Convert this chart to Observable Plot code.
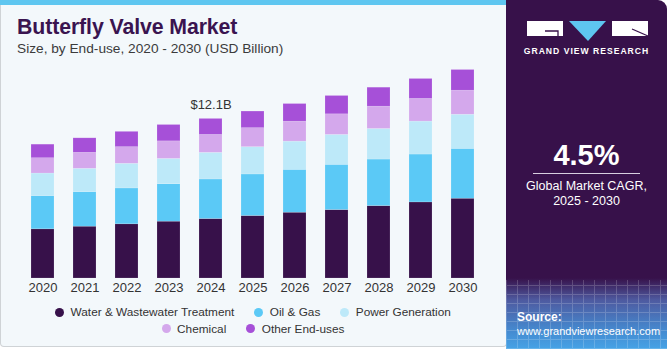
<!DOCTYPE html>
<html>
<head>
<meta charset="utf-8">
<script src="https://cdn.jsdelivr.net/npm/d3@7"></script>
<script src="https://cdn.jsdelivr.net/npm/@observablehq/plot@0.6"></script>
<style>
  html, body { margin: 0; padding: 0; background: #ffffff; }
  body { width: 671px; height: 350px; position: relative; overflow: hidden; font-family: "Liberation Sans", Arial, sans-serif; }
  #left { position: absolute; left: 0; top: 0; width: 505px; height: 346px; background: #f3f8fb; border: 1px solid #cfd3d6; border-top: none; border-radius: 0 0 4px 4px; }
  #topbar { position: absolute; left: 0; top: 0; width: 506px; height: 5px; background: #5ec6f0; }
  #title { position: absolute; left: 17px; top: 15px; font-size: 21.3px; font-weight: 900; color: #3a1450; letter-spacing: -0.1px; }
  #subtitle { position: absolute; left: 17px; top: 41px; font-size: 13.7px; color: #3b3b3b; }
  #chart { position: absolute; left: 0; top: 60px; }
  #legend { position: absolute; left: 0; top: 304px; width: 506px; font-size: 11.8px; color: #333; }
  .row { display: flex; justify-content: center; gap: 0; height: 16.5px; align-items: center; }
  .item { display: flex; align-items: center; margin: 0 10px; }
  .dot { width: 9px; height: 9px; border-radius: 50%; margin-right: 6.5px; }
  #right { position: absolute; left: 506px; top: 0; width: 161px; height: 349px; border-radius: 0 9px 0 0; overflow: hidden;
    background: linear-gradient(to bottom, #37114a 0px, #37114a 278px, #4e5aa0 300px, #4589cf 330px, #46a3e6 349px); }
  #grid { position: absolute; left: 0; top: 280px; width: 161px; height: 69px; opacity: 0.18;
    background-image: repeating-linear-gradient(0deg, #fff 0 1px, transparent 1px 9px), repeating-linear-gradient(90deg, #fff 0 1px, transparent 1px 11px); }
  #brand { position: absolute; left: 0; top: 46px; width: 161px; text-align: center; font-size: 8.6px; font-weight: bold; color: #fff; letter-spacing: 1px; }
  #cagr { position: absolute; left: 0; top: 139px; width: 161px; text-align: center; font-size: 29px; font-weight: bold; color: #fff; }
  #rule { position: absolute; left: 27px; top: 173px; width: 107px; height: 1px; background: #d8cfe0; }
  #cagrtxt { position: absolute; left: 0; top: 179px; width: 161px; text-align: center; font-size: 12.5px; color: #fff; line-height: 15px; }
  #src { position: absolute; left: 11px; top: 310px; font-size: 11px; color: #fff; line-height: 14px; }
</style>
</head>
<body>
<div id="left"></div>
<div id="topbar"></div>
<div id="title">Butterfly Valve Market</div>
<div id="subtitle">Size, by End-use, 2020 - 2030 (USD Billion)</div>
<div id="chart"></div>
<div id="legend"></div>
<div id="right">
  <div id="grid"></div>
  <svg width="161" height="45" style="position:absolute;left:0;top:0">
    <rect x="21" y="21" width="36" height="15" fill="#ffffff"/>
    <path d="M39 31 H52 V36" stroke="#37114a" stroke-width="1.3" fill="none"/>
    <polygon points="63,21 100,21 82,41" fill="#5ec6f0"/>
    <rect x="106" y="21" width="36" height="15" fill="#ffffff"/>
    <path d="M126 29 L142 36" stroke="#37114a" stroke-width="1.3" fill="none"/>
  </svg>
  <div id="brand">GRAND VIEW RESEARCH</div>
  <div id="cagr">4.5%</div>
  <div id="rule"></div>
  <div id="cagrtxt">Global Market CAGR,<br>2025 - 2030</div>
  <div id="src"><b style="font-size:12px">Source:</b><br>www.grandviewresearch.com</div>
</div>
<script>
const years = ["2020","2021","2022","2023","2024","2025","2026","2027","2028","2029","2030"];
const segments = ["Water & Wastewater Treatment","Oil & Gas","Power Generation","Chemical","Other End-uses"];
const colors = ["#37114a","#5bc9f6","#bde9f9","#d4a8ec","#a650d8"];
const water = [3.73, 3.93, 4.11, 4.31, 4.51, 4.74, 4.99, 5.19, 5.49, 5.77, 6.05];
const oilGas = [2.52, 2.62, 2.72, 2.84, 3.00, 3.15, 3.25, 3.43, 3.53, 3.63, 3.78];
const power = [1.71, 1.77, 1.87, 1.92, 2.02, 2.07, 2.14, 2.27, 2.32, 2.50, 2.59];
const chemical = [1.16, 1.21, 1.26, 1.33, 1.36, 1.44, 1.51, 1.56, 1.69, 1.72, 1.82];
const other = [1.03, 1.10, 1.16, 1.24, 1.21, 1.26, 1.34, 1.39, 1.44, 1.51, 1.57];
const annotations = [{year: "2024", text: "$12.1B"}];

const series = [water, oilGas, power, chemical, other];
const data = [];
years.forEach((y, i) => {
  segments.forEach((s, j) => data.push({year: y, segment: s, value: series[j][i]}));
});
const totals = years.map((y, i) => ({year: y, total: d3.sum(series, s => s[i])}));
const labelData = annotations.map(a => ({...a, total: totals.find(t => t.year === a.year).total}));

const chart = Plot.plot({
  width: 506,
  height: 240,
  marginLeft: 12,
  marginRight: 12,
  marginTop: 7,
  marginBottom: 22,
  style: {background: "transparent", fontFamily: "Liberation Sans, Arial, sans-serif", fontSize: "13px", color: "#333"},
  x: {domain: years, padding: 0.45, label: null, tickSize: 0, tickPadding: 4},
  y: {domain: [0, 16], axis: null},
  color: {domain: segments, range: colors},
  marks: [
    Plot.barY(data, {x: "year", y: "value", fill: "segment", stroke: "#ffffff", strokeOpacity: 0.25, strokeWidth: 0.6}),
    Plot.text(labelData, {x: "year", y: "total", text: "text", dy: -14, fontSize: 13, fill: "#333"})
  ]
});
document.getElementById("chart").appendChild(chart);

const legend = document.getElementById("legend");
const rows = [segments.slice(0, 3), segments.slice(3)];
rows.forEach(r => {
  const row = document.createElement("div");
  row.className = "row";
  r.forEach(s => {
    const it = document.createElement("div");
    it.className = "item";
    const dot = document.createElement("span");
    dot.className = "dot";
    dot.style.background = colors[segments.indexOf(s)];
    const t = document.createElement("span");
    t.textContent = s;
    it.appendChild(dot); it.appendChild(t);
    row.appendChild(it);
  });
  legend.appendChild(row);
});
</script>
</body>
</html>
